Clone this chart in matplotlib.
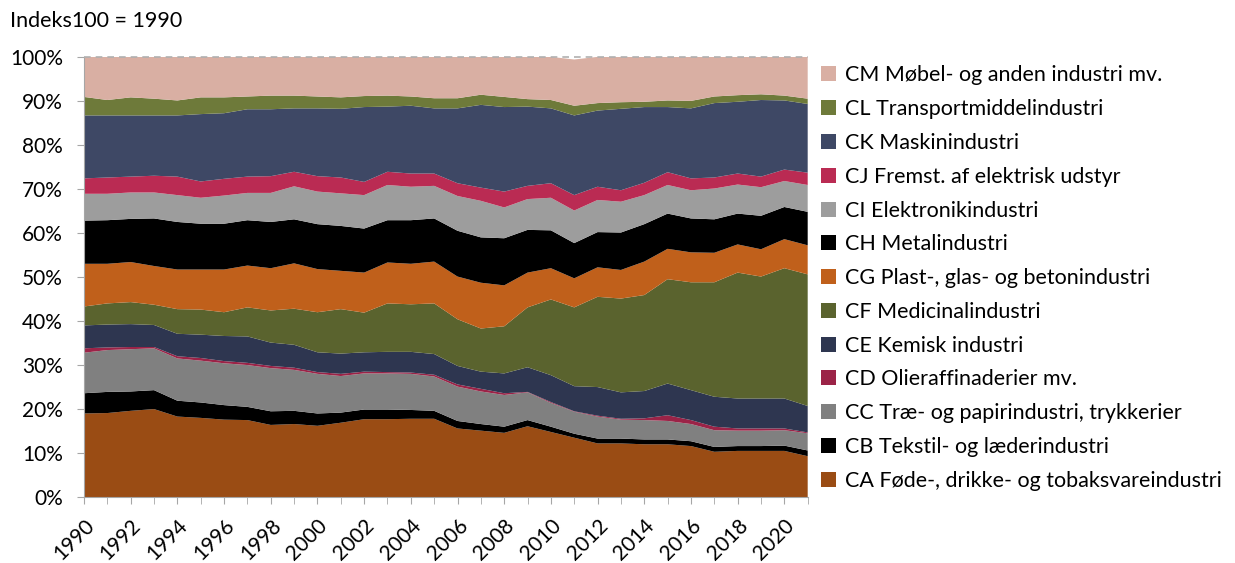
import numpy as np
import matplotlib.pyplot as plt
from matplotlib.patches import Patch

plt.rcParams['font.family'] = ['Lato', 'DejaVu Sans']

years = list(range(1990, 2022))

# shares in percent
CA = [19.0, 19.1, 19.6, 20.0, 18.3, 18.0, 17.6, 17.5, 16.4, 16.6, 16.2, 16.9, 17.7, 17.7, 17.8, 17.8,
      15.6, 15.1, 14.6, 16.1, 14.8, 13.5, 12.2, 12.2, 12.0, 12.0, 11.6, 10.3, 10.5, 10.5, 10.5, 9.3]
CB = [4.6, 4.8, 4.4, 4.3, 3.6, 3.5, 3.3, 3.0, 3.1, 3.0, 2.8, 2.3, 2.2, 2.2, 2.0, 1.8,
      1.7, 1.5, 1.4, 1.4, 1.2, 0.9, 1.1, 1.1, 1.1, 1.1, 1.1, 1.1, 1.1, 1.1, 1.2, 1.3]
CC = [9.2, 9.5, 9.6, 9.5, 9.6, 9.5, 9.5, 9.5, 9.8, 9.3, 9.0, 8.3, 8.2, 8.2, 8.2, 7.8,
      7.8, 7.4, 7.2, 6.3, 5.4, 5.0, 5.0, 4.3, 4.4, 4.2, 3.9, 3.8, 3.5, 3.5, 3.5, 3.9]
CD = [1.0, 0.6, 0.5, 0.3, 0.5, 0.6, 0.5, 0.5, 0.5, 0.5, 0.4, 0.5, 0.4, 0.3, 0.3, 0.4,
      0.5, 0.6, 0.4, 0.1, 0.2, 0.1, 0.2, 0.2, 0.4, 1.3, 0.9, 0.8, 0.5, 0.5, 0.4, 0.2]
CE = [5.2, 5.2, 5.2, 5.0, 5.1, 5.3, 5.7, 6.0, 5.3, 5.2, 4.5, 4.6, 4.4, 4.6, 4.7, 4.7,
      4.2, 3.9, 4.5, 5.6, 6.1, 5.7, 6.5, 6.0, 6.2, 7.2, 6.8, 6.8, 6.8, 6.8, 6.8, 6.0]
CF = [4.3, 4.8, 5.0, 4.6, 5.6, 5.7, 5.4, 6.6, 7.3, 8.2, 9.1, 10.1, 9.0, 11.0, 10.8, 11.5,
      10.6, 9.8, 10.7, 13.6, 17.2, 17.9, 20.5, 21.3, 21.8, 23.7, 24.5, 26.0, 28.6, 27.7, 29.6, 29.9]
CG = [9.7, 9.0, 9.1, 8.8, 9.0, 9.1, 9.7, 9.5, 9.6, 10.3, 9.8, 8.7, 9.1, 9.3, 9.2, 9.5,
      9.7, 10.4, 9.3, 7.9, 7.1, 6.6, 6.7, 6.5, 7.6, 6.9, 6.8, 6.7, 6.4, 6.2, 6.6, 6.6]
CH = [9.8, 9.9, 9.8, 10.8, 10.8, 10.4, 10.4, 10.3, 10.5, 10.0, 10.2, 10.2, 10.0, 9.6, 9.9, 9.8,
      10.4, 10.3, 10.7, 9.7, 8.6, 8.0, 8.0, 8.5, 8.5, 8.0, 7.7, 7.6, 7.0, 7.6, 7.3, 7.6]
CI = [6.1, 6.0, 6.0, 5.9, 6.1, 5.9, 6.4, 6.2, 6.6, 7.5, 7.4, 7.4, 7.6, 8.0, 7.6, 7.4,
      7.9, 8.3, 7.0, 7.0, 7.4, 7.4, 7.3, 7.0, 6.6, 6.5, 6.4, 7.0, 6.6, 6.5, 5.9, 6.1]
CJ = [3.5, 3.7, 3.6, 3.8, 4.2, 3.7, 3.8, 3.7, 3.8, 3.3, 3.5, 3.6, 3.0, 3.0, 3.0, 2.8,
      2.9, 3.0, 3.6, 3.0, 3.3, 3.5, 3.0, 2.6, 2.8, 2.9, 2.7, 2.5, 2.5, 2.4, 2.6, 2.8]
CK = [14.3, 14.1, 13.9, 13.7, 13.9, 15.3, 14.9, 15.3, 15.2, 14.4, 15.4, 15.6, 17.0, 14.8, 15.4, 14.8,
      17.0, 18.8, 19.2, 18.0, 17.0, 18.1, 17.3, 18.5, 17.2, 14.8, 15.9, 16.9, 16.3, 17.4, 15.7, 15.6]
CL = [4.2, 3.5, 4.1, 3.8, 3.4, 3.8, 3.6, 2.9, 3.1, 2.9, 2.7, 2.6, 2.5, 2.5, 2.1, 2.3,
      2.3, 2.3, 2.3, 1.7, 1.9, 2.2, 1.7, 1.5, 1.2, 1.5, 1.7, 1.5, 1.5, 1.3, 1.1, 1.2]
CM = [9.1, 9.8, 9.2, 9.5, 9.9, 9.2, 9.2, 9.0, 8.8, 8.8, 9.0, 9.2, 8.9, 8.8, 9.0, 9.4,
      9.4, 8.6, 9.1, 9.6, 9.8, 10.5, 10.5, 10.3, 10.2, 9.9, 10.0, 9.0, 8.7, 8.5, 8.8, 9.5]

labels = [
    "CA Føde-, drikke- og tobaksvareindustri",
    "CB Tekstil- og læderindustri",
    "CC Træ- og papirindustri, trykkerier",
    "CD Olieraffinaderier mv.",
    "CE Kemisk industri",
    "CF Medicinalindustri",
    "CG Plast-, glas- og betonindustri",
    "CH Metalindustri",
    "CI Elektronikindustri",
    "CJ Fremst. af elektrisk udstyr",
    "CK Maskinindustri",
    "CL Transportmiddelindustri",
    "CM Møbel- og anden industri mv.",
]
colors = ["#9A4C14", "#000000", "#808080", "#9B2347", "#2E3650", "#5A632E", "#C0601B",
          "#000000", "#9D9D9D", "#BA2B53", "#3E4865", "#6E7A3A", "#D9AFA3"]

series = [CA, CB, CC, CD, CE, CF, CG, CH, CI, CJ, CK, CL, CM]

fig = plt.figure(figsize=(12.35, 5.63), dpi=100)
ax = fig.add_axes([0.068, 0.117, 0.586, 0.782])

ax.stackplot(years, *series, colors=colors, edgecolor='none', linewidth=0)
ax.axhline(100, color='#B0B0B0', lw=1.2, ls=(0, (4, 3)), zorder=3, clip_on=False)

ax.set_xlim(1990, 2021)
ax.set_ylim(0, 100)
ax.set_yticks(np.arange(0, 101, 10))
ax.set_yticklabels([f"{v}%" for v in range(0, 101, 10)], fontsize=15)
ax.set_xticks(years, minor=True)
ax.set_xticks(years[::2])
ax.set_xticklabels([str(y) for y in years[::2]], rotation=45, ha='right',
                   rotation_mode='anchor', fontsize=15)
ax.tick_params(axis='x', which='both', direction='out', length=5, color='#A6A6A6', pad=8)
ax.tick_params(axis='y', direction='out', length=5, color='#A6A6A6', pad=10)
for s in ['top', 'right']:
    ax.spines[s].set_visible(False)
for s in ['left', 'bottom']:
    ax.spines[s].set_color('#A6A6A6')

fig.text(0.008, 0.962, "Indeks100 = 1990", fontsize=15.5, va='center')

handles = [Patch(facecolor=c, edgecolor='none') for c in colors]
fig.legend(handles[::-1], labels[::-1], loc='upper left', bbox_to_anchor=(0.658, 0.899),
           frameon=False, fontsize=15.5, labelspacing=0.64, handlelength=0.7,
           handleheight=0.7, handletextpad=0.4, borderaxespad=0)

fig.savefig("out.png", dpi=100)
